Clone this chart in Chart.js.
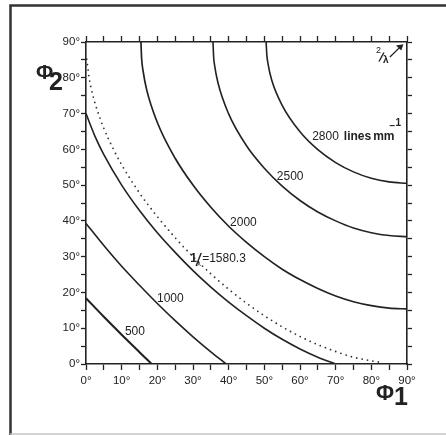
<!DOCTYPE html>
<html>
<head>
<meta charset="utf-8">
<script src="https://cdn.jsdelivr.net/npm/chart.js@4.4.1/dist/chart.umd.min.js"></script>
<style>
  body { margin: 0; background: #fff; }
  canvas { display: block; }
</style>
</head>
<body>
<canvas id="grafico" width="446" height="435"></canvas>
<script>
// curvas phi1 / phi2 (grados)
const phi1_500 = [0, 5, 10, 15, 18.4];
const phi2_500 = [18.4, 13.2, 8.2, 3.3, 0];

const phi1_1000 = [0, 5, 10, 15, 20, 25, 30, 35, 39.3];
const phi2_1000 = [39.3, 33.1, 27.3, 22.0, 16.9, 12.1, 7.6, 3.4, 0];

const phi1_1485 = [0, 2.5, 5, 10, 15, 20, 25, 30, 35, 40, 45, 50, 55, 60, 65, 70];
const phi2_1485 = [70, 63.7, 58.5, 50.0, 42.9, 36.7, 31.2, 26.1, 21.5, 17.3, 13.5, 10.0, 6.9, 4.2, 1.9, 0];

const phi1_1580 = [0.2, 1, 2, 3, 5, 7.5, 10, 15, 20, 25, 30, 35, 40, 45, 50, 55, 60, 65, 70, 75, 80, 83];
const phi2_1580 = [85.2, 79.3, 74.8, 71.4, 65.9, 60.4, 55.7, 47.8, 41.2, 35.3, 30, 25.2, 20.9, 17.0, 13.5, 10.4, 7.7, 5.4, 3.5, 1.9, 0.9, 0.4];

const phi1_2000 = [15.4, 15.6, 16, 17, 20, 25, 30, 35, 40, 45, 50, 55, 60, 65, 70, 75, 80, 85, 90];
const phi2_2000 = [90, 85.3, 81.9, 76.7, 67.5, 57.5, 50.0, 43.8, 38.5, 34.0, 30.0, 26.5, 23.6, 21.1, 19.0, 17.4, 16.3, 15.6, 15.4];

const phi1_2500 = [35.6, 35.8, 36, 37, 40, 45, 50, 55, 60, 65, 70, 75, 80, 85, 90];
const phi2_2500 = [90, 85.6, 83.8, 78.6, 69.9, 61.0, 54.7, 49.7, 45.7, 42.5, 40.0, 38.0, 36.7, 35.9, 35.6];

const phi1_2800 = [50.5, 50.7, 51, 52, 55, 60, 65, 70, 75, 80, 85, 90];
const phi2_2800 = [90, 86.4, 84.1, 79.6, 72.3, 64.9, 59.9, 56.3, 53.7, 51.9, 50.9, 50.5];

const ejeMin = 0;
const ejeMax = 90;
const pasoTick = 5;
const pasoEtiqueta = 10;

const tinta = "#222";
const fuente = "'Liberation Sans', Arial, sans-serif";

function puntos(xs, ys) {
  return xs.map((x, i) => ({ x: x, y: ys[i] }));
}

function curva(xs, ys, ancho) {
  return {
    data: puntos(xs, ys),
    showLine: true,
    borderColor: tinta,
    borderWidth: ancho,
    pointRadius: 0,
    cubicInterpolationMode: "monotone",
    fill: false,
  };
}

const datasets = [
  curva(phi1_500, phi2_500, 2.1),
  curva(phi1_1000, phi2_1000, 1.6),
  curva(phi1_1485, phi2_1485, 1.6),
  curva(phi1_2000, phi2_2000, 1.7),
  curva(phi1_2500, phi2_2500, 1.6),
  curva(phi1_2800, phi2_2800, 1.6),
  {
    data: puntos(phi1_1580, phi2_1580),
    showLine: true,
    borderColor: "#333",
    borderWidth: 1.8,
    borderDash: [0, 5.5],
    borderCapStyle: "round",
    pointRadius: 0,
    cubicInterpolationMode: "monotone",
    fill: false,
  },
];

// textos sobre las curvas
function texto(c, t, x, y, font, align) {
  c.font = font;
  c.textAlign = align || "left";
  c.fillText(t, x, y);
  return c.measureText(t).width;
}

const marcoYTextos = {
  id: "marcoYTextos",
  beforeDraw(chart) {
    const c = chart.ctx;
    c.save();
    c.fillStyle = "#fff";
    c.fillRect(0, 0, chart.width, chart.height);
    c.restore();
  },
  afterDraw(chart) {
    const c = chart.ctx;
    const sx = chart.scales.x;
    const sy = chart.scales.y;
    const px = (v) => sx.getPixelForValue(v);
    const py = (v) => sy.getPixelForValue(v);

    c.save();
    // marco exterior
    c.strokeStyle = "#333";
    c.lineWidth = 2.5;
    c.beginPath();
    c.moveTo(10.5, 435);
    c.lineTo(10.5, 5.5);
    c.lineTo(446, 5.5);
    c.stroke();
    c.strokeStyle = "#c4c4c4";
    c.lineWidth = 1.5;
    c.beginPath();
    c.moveTo(10, 434);
    c.lineTo(446, 434);
    c.stroke();

    c.fillStyle = tinta;
    c.textBaseline = "alphabetic";
    const normal = "12px " + fuente;
    const negrita = "bold 12px " + fuente;

    texto(c, "500", px(10.9), py(8.1), normal);
    texto(c, "1000", px(19.9), py(17.3), normal);
    texto(c, "2000", px(40.4), py(38.6), normal);
    texto(c, "2500", px(53.5), py(51.4), normal);

    // 2800 lines mm-1
    let x0 = px(63.4);
    const y0 = py(62.6);
    x0 += texto(c, "2800", x0, y0, normal) + 5;
    x0 += texto(c, "lines", x0, y0, negrita) + 2;
    const wmm = texto(c, "mm", x0, y0, negrita);
    texto(c, "\u2212", x0 + wmm - 5, y0 - 11, "bold 10px " + fuente);
    texto(c, "1", x0 + wmm + 1, y0 - 14, "bold 10px " + fuente);

    // 1/λ = 1580.3
    const xl = px(29.2);
    const yl = py(28.5);
    texto(c, "1", xl, yl, "bold 12px " + fuente);
    c.strokeStyle = tinta;
    c.lineWidth = 1.4;
    c.beginPath();
    c.moveTo(xl + 6, yl + 4);
    c.lineTo(xl + 11, yl - 9);
    c.stroke();
    texto(c, "\u03bb", xl + 7, yl + 4, "7px " + fuente);
    texto(c, "=1580.3", xl + 12, yl, normal);

    // 2/λ con flecha
    const xa = px(81.3);
    const ya = py(84);
    texto(c, "2", xa, ya - 10, "9px " + fuente);
    c.beginPath();
    c.moveTo(xa + 3, ya - 2);
    c.lineTo(xa + 8, ya - 11);
    c.stroke();
    texto(c, "\u03bb", xa + 7, ya, "bold 10px " + fuente);
    c.lineWidth = 1.3;
    c.beginPath();
    c.moveTo(px(85.2), py(85.8));
    c.lineTo(px(88.2), py(88.7));
    c.stroke();
    c.beginPath();
    c.moveTo(px(89), py(89.4));
    c.lineTo(px(86.9), py(89));
    c.lineTo(px(88.4), py(87.6));
    c.closePath();
    c.fill();

    // titulos de ejes
    texto(c, "\u03a6", 36, 79, "bold 21px " + fuente);
    texto(c, "2", 49, 90, "bold 25px " + fuente);
    texto(c, "\u03a6", 376, 400, "bold 22px " + fuente);
    texto(c, "1", 394, 405, "bold 25px " + fuente);
    c.restore();
  },
};

function ejeX(posicion, alto, conTexto) {
  return {
    type: "linear",
    position: posicion,
    min: ejeMin,
    max: ejeMax,
    afterFit: (scale) => {
      scale.height = alto;
    },
    ticks: {
      stepSize: pasoTick,
      autoSkip: false,
      maxRotation: 0,
      padding: 4,
      color: tinta,
      font: { family: fuente, size: 11.5 },
      callback: (v) => (conTexto && v % pasoEtiqueta === 0 ? v + "°" : ""),
    },
    grid: {
      drawOnChartArea: false,
      tickLength: 6,
      tickWidth: 1.3,
      tickColor: tinta,
    },
    border: { color: tinta, width: 1.6 },
  };
}

function ejeY(posicion, ancho, conTexto) {
  return {
    type: "linear",
    position: posicion,
    min: ejeMin,
    max: ejeMax,
    afterFit: (scale) => {
      scale.width = ancho;
    },
    ticks: {
      stepSize: pasoTick,
      autoSkip: false,
      padding: 1,
      color: tinta,
      font: { family: fuente, size: 11.5 },
      callback: (v) => (conTexto && v % pasoEtiqueta === 0 ? v + "°" : ""),
    },
    grid: {
      drawOnChartArea: false,
      tickLength: 5,
      tickWidth: 1.3,
      tickColor: tinta,
    },
    border: { color: tinta, width: 1.6 },
  };
}

const config = {
  type: "scatter",
  data: { datasets },
  options: {
    responsive: false,
    animation: false,
    layout: { padding: 0 },
    plugins: {
      legend: { display: false },
      tooltip: { enabled: false },
    },
    scales: {
      x: ejeX("bottom", 71, true),
      x2: ejeX("top", 42, false),
      y: ejeY("left", 86, true),
      y2: ejeY("right", 39, false),
    },
  },
  plugins: [marcoYTextos],
};

const grafico = new Chart(document.getElementById("grafico"), config);
</script>
</body>
</html>
